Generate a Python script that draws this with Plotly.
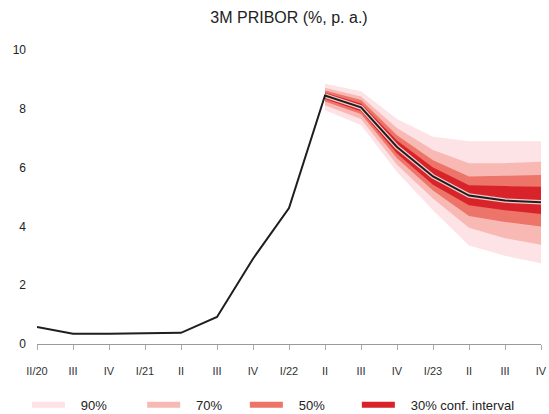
import plotly.graph_objects as go

tick_labels = ["II/20", "III", "IV", "I/21", "II", "III", "IV", "I/22",
               "II", "III", "IV", "I/23", "II", "III", "IV"]
pribor = [0.58, 0.35, 0.35, 0.36, 0.38, 0.92, 2.90, 4.62, 8.45, 8.05, 6.70, 5.70, 5.05, 4.88, 4.82]

fc_start = 8
u90 = [8.85, 8.60, 7.65, 7.05, 6.90, 6.90, 6.90]
l90 = [7.95, 7.45, 5.85, 4.55, 3.35, 3.00, 2.75]
u70 = [8.72, 8.42, 7.35, 6.60, 6.15, 6.15, 6.20]
l70 = [8.12, 7.65, 6.10, 4.95, 3.95, 3.60, 3.38]
u50 = [8.62, 8.30, 7.10, 6.25, 5.70, 5.72, 5.75]
l50 = [8.25, 7.82, 6.32, 5.22, 4.35, 4.15, 4.00]
u30 = [8.55, 8.18, 6.92, 6.00, 5.40, 5.37, 5.35]
l30 = [8.33, 7.92, 6.48, 5.42, 4.72, 4.55, 4.42]

band_names = ["90%", "70%", "50%", "30% conf. interval"]
band_colors = ["#fde2e6", "#f8b9b4", "#ec7468", "#d9232a"]
band_upper = [u90, u70, u50, u30]
band_lower = [l90, l70, l50, l30]

legend_ids = ["legend", "legend2", "legend3", "legend4"]
legend_x = [0.049, 0.259, 0.446, 0.650]

x_all = list(range(len(pribor)))
x_fc = x_all[fc_start:]

fig = go.Figure()
for name, up, lo, col, lid in zip(band_names, band_upper, band_lower, band_colors, legend_ids):
    fig.add_trace(go.Scatter(
        x=x_fc + x_fc[::-1], y=up + lo[::-1],
        fill="toself", fillcolor=col, mode="none",
        name="\u00a0\u00a0\u00a0" + name, legend=lid,
        hoverinfo="skip", showlegend=True,
    ))

fig.add_trace(go.Scatter(
    x=x_fc, y=pribor[fc_start:], mode="lines",
    line=dict(color="#f4c9c9", width=4.5), showlegend=False, hoverinfo="skip"))
fig.add_trace(go.Scatter(
    x=x_all, y=pribor, mode="lines",
    line=dict(color="#1e1e1e", width=2), showlegend=False))

legend_common = dict(orientation="h", xref="container", xanchor="left",
                     yref="container", y=0.022, yanchor="middle",
                     font=dict(size=13, color="#222222"), itemwidth=33,
                     bgcolor="rgba(0,0,0,0)")

fig.update_layout(
    width=549, height=414,
    margin=dict(l=37, r=8, t=50, b=70, autoexpand=False),
    paper_bgcolor="white", plot_bgcolor="white",
    font=dict(family="Liberation Sans, Arial, sans-serif", color="#333333", size=11),
    title=dict(text="3M PRIBOR (%, p. a.)", xref="paper", x=0.5, xanchor="center",
               yref="container", y=0.957, yanchor="middle",
               font=dict(size=16, color="#222222")),
    showlegend=True,
)
for lid, lx in zip(legend_ids, legend_x):
    fig.update_layout({lid: dict(legend_common, x=lx)})

fig.update_xaxes(
    range=[0, 14], tickmode="array", tickvals=x_all, ticktext=tick_labels,
    showgrid=False, zeroline=False, showline=True, linecolor="#9a9a9a", linewidth=1,
    ticks="outside", ticklen=5, tickcolor="#aaaaaa", ticklabelstandoff=12,
    ticklabeloverflow="allow",
    tickfont=dict(size=11, color="#333333"),
)
fig.update_yaxes(
    range=[0, 10], tickvals=[0, 2, 4, 6, 8, 10], showgrid=False, zeroline=False,
    showline=False, ticks="", ticklabelstandoff=10, tickfont=dict(size=12, color="#222222"),
)

fig.write_html(
    "out.html",
    config={"displayModeBar": False},
    post_script="document.body.style.margin='0';document.body.style.padding='0';",
)
